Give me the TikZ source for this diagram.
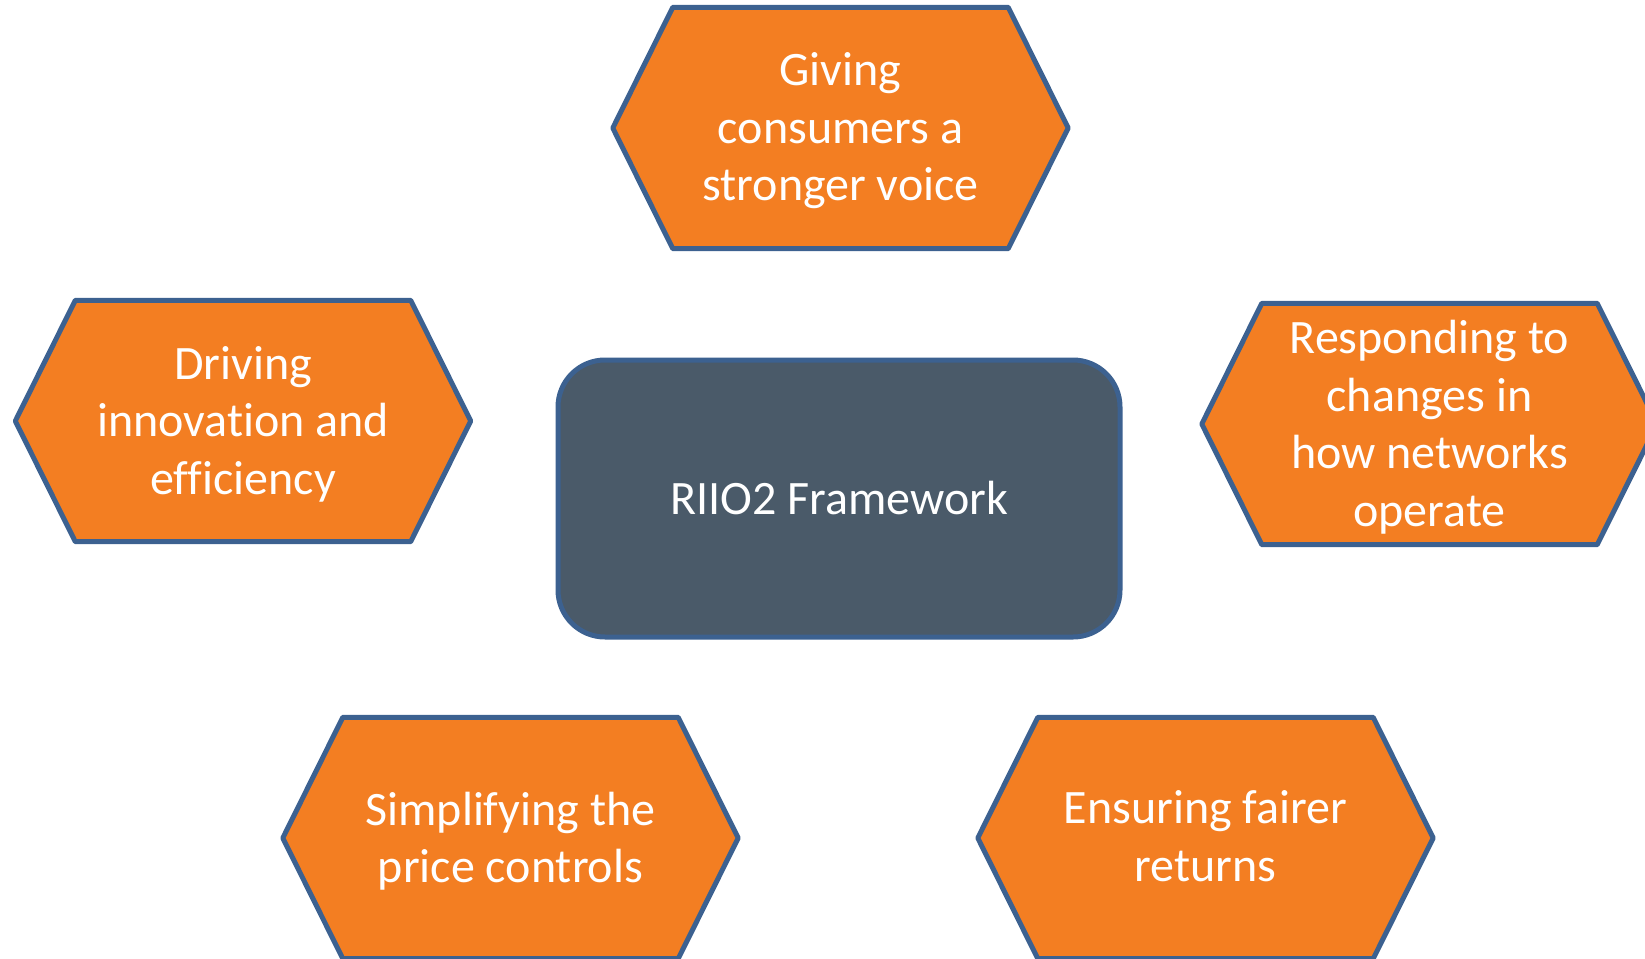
\documentclass[tikz,border=0pt]{standalone}
\usepackage{fontspec}
\setmainfont{Carlito}[Ligatures=NoCommon]
\usetikzlibrary{calc}
\definecolor{hexorange}{HTML}{F37E22}
\definecolor{edgeblue}{HTML}{3C6190}
\definecolor{slate}{HTML}{4A5A69}
\pgfdeclarelayer{background}
\pgfsetlayers{background,main}
\begin{document}
\begin{tikzpicture}[x=1pt,y=-1pt,
  hexnode/.style={rectangle,minimum width=455pt,minimum height=241pt,inner sep=0pt,
    align=center,text=white,font=\fontsize{48}{57.5}\selectfont},
  hexline/.style={fill=hexorange,draw=edgeblue,line width=5pt,line join=round},
  corebox/.style={rectangle,rounded corners=47pt,minimum width=562pt,minimum height=277pt,
    fill=slate,draw=edgeblue,line width=5pt,text=white,font=\fontsize{48}{57.5}\selectfont}]
\useasboundingbox (0,0) rectangle (1645,958);

\node[corebox] (core) at (839,498.5) {\raisebox{-3pt}{RIIO2 Framework}};

\node[hexnode] (voice) at (840.5,131) {Giving\\consumers a\\stronger voice};
\node[hexnode] (innov) at (243,424) {Driving\\innovation and\\efficiency};
\node[hexnode] (change) at (1429.5,427) {Responding to\\changes in\\how networks\\operate};
\node[hexnode] (simple) at (510.5,841) {Simplifying the\\price controls};
\node[hexnode] (fair) at (1205.5,841) {\strut Ensuring fairer\\returns\strut};

% hexagon outlines behind the labels, drawn around each label's own centre
\begin{pgfonlayer}{background}
\foreach \n in {voice,innov,change,simple,fair}
  \draw[hexline] ($(\n.west)+(0,-3)$) -- ($(\n.north west)+(60,-3)$) -- ($(\n.north east)+(-60,-3)$)
    -- ($(\n.east)+(0,-3)$) -- ($(\n.south east)+(-60,-3)$) -- ($(\n.south west)+(60,-3)$) -- cycle;
\end{pgfonlayer}
\end{tikzpicture}
\end{document}
